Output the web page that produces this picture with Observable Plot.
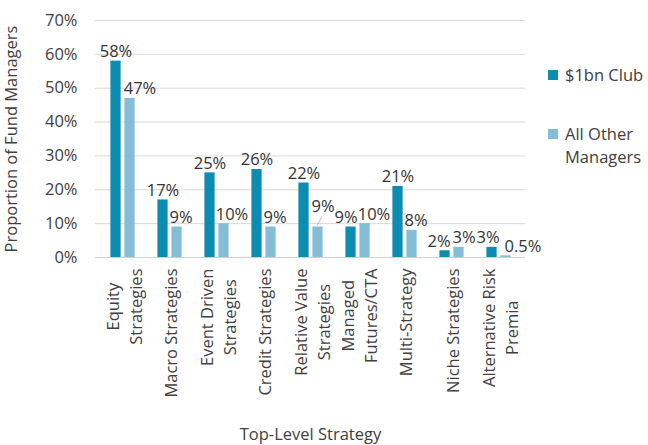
<!DOCTYPE html>
<html>
<head>
<meta charset="utf-8">
<script src="https://cdn.jsdelivr.net/npm/d3@7"></script>
<script src="https://cdn.jsdelivr.net/npm/@observablehq/plot@0.6"></script>
<style>
  html, body { margin: 0; padding: 0; background: #fff; }
  #wrap { position: relative; width: 648px; height: 445px; font-family: "Open Sans", sans-serif; color: #404040; }
  #legend { position: absolute; left: 548px; top: 63px; font-size: 16.5px; line-height: 23px; white-space: nowrap; }
  .item { position: relative; padding-left: 17px; margin-bottom: 36px; }
  .sw { position: absolute; left: 0; top: 7px; width: 10px; height: 10px; }
</style>
</head>
<body>
<div id="wrap">
  <div id="legend"></div>
</div>
<script>
// Share of fund managers by top-level strategy
const strategies = [
  "Equity\nStrategies",
  "Macro Strategies",
  "Event Driven\nStrategies",
  "Credit Strategies",
  "Relative Value\nStrategies",
  "Managed\nFutures/CTA",
  "Multi-Strategy",
  "Niche Strategies",
  "Alternative Risk\nPremia"
];
const billionClub = [58, 17, 25, 26, 22, 9, 21, 2, 3];
const otherManagers = [47, 9, 10, 9, 9, 10, 8, 3, 0.5];
const seriesNames = ["$1bn Club", "All Other\nManagers"];
const yTicks = [0, 10, 20, 30, 40, 50, 60, 70];

const colors = ["#0c8cb0", "#86bdd6"];
const FS = 16.5;

const club = strategies.map((s, i) => ({strategy: s, value: billionClub[i]}));
const others = strategies.map((s, i) => ({strategy: s, value: otherManagers[i]}));

const width = 648, height = 445;
const mL = 95, mR = 123, mT = 20, mB = 188;
const band = (width - mL - mR) / strategies.length;
const barW = 11, half = 7;
const fmt = v => `${v}%`;

// Label nudges [dx, dy] so neighbouring value labels don't collide
const clubNudge = {5: [-5, 0], 7: [-6, 0], 8: [-4, 0]};
const otherNudge = {0: [10, 0], 1: [4, 0], 2: [8, 0], 3: [4, 0], 4: [5, -11], 5: [9, 0], 6: [4, 0], 7: [5, 0], 8: [17, 0]};

const valueLabels = (data, base, nudges) => data.map((d, i) => {
  const [nx, ny] = nudges[i] || [0, 0];
  return Plot.text([d], {
    x: "strategy", y: "value", text: d => fmt(d.value),
    dx: base + nx, dy: -4 + ny, lineAnchor: "bottom", fill: "#333", fontSize: FS
  });
});

const chart = Plot.plot({
  width, height,
  marginLeft: mL, marginRight: mR, marginTop: mT, marginBottom: mB,
  style: {fontFamily: "'Open Sans', sans-serif", fontSize: `${FS}px`, color: "#404040", background: "transparent"},
  x: {domain: strategies, padding: 0},
  y: {domain: [0, 70]},
  marks: [
    Plot.gridY(yTicks, {stroke: "#d9d9d9", strokeOpacity: 1}),
    Plot.ruleY([0], {stroke: "#d0d0d0", strokeWidth: 1.2}),
    Plot.barY(club, {
      x: "strategy", y: "value", fill: colors[0],
      insetLeft: band / 2 - half - barW / 2, insetRight: band / 2 + half - barW / 2
    }),
    Plot.barY(others, {
      x: "strategy", y: "value", fill: colors[1],
      insetLeft: band / 2 + half - barW / 2, insetRight: band / 2 - half - barW / 2
    }),
    ...valueLabels(club, -half, clubNudge),
    ...valueLabels(others, half, otherNudge),
    Plot.axisY({
      ticks: yTicks, tickFormat: fmt, tickSize: 0, tickPadding: 18,
      label: "Proportion of Fund Managers", labelAnchor: "center", labelArrow: "none",
      labelOffset: 90
    }),
    Plot.axisX({
      tickSize: 0, tickPadding: 11, tickRotate: -90, lineHeight: 1.4,
      label: "Top-Level Strategy", labelAnchor: "center", labelArrow: "none",
      labelOffset: 182
    })
  ]
});

const wrap = document.getElementById("wrap");
wrap.insertBefore(chart, wrap.firstChild);

// Centre the lines of wrapped category labels within their block
chart.querySelectorAll('[aria-label="x-axis tick label"] text').forEach(t => {
  const spans = t.querySelectorAll("tspan");
  if (spans.length < 2) return;
  let maxLen = 0;
  spans.forEach(s => { maxLen = Math.max(maxLen, s.getComputedTextLength()); });
  t.setAttribute("text-anchor", "middle");
  spans.forEach(s => s.setAttribute("x", -maxLen / 2));
});

// Leader line from a lifted value label down to its bar
{
  const x = d3.scaleBand().domain(strategies).range([mL, width - mR]);
  const y = d3.scaleLinear().domain([0, 70]).range([height - mB, mT]);
  others.forEach((d, i) => {
    const [nx, ny] = otherNudge[i] || [0, 0];
    if (ny > -8) return;
    const cx = x(d.strategy) + band / 2 + half;
    const line = document.createElementNS("http://www.w3.org/2000/svg", "line");
    line.setAttribute("x1", cx);
    line.setAttribute("y1", y(d.value) - 1);
    line.setAttribute("x2", cx + nx);
    line.setAttribute("y2", y(d.value) + ny + 1);
    line.setAttribute("stroke", "#a6a6a6");
    line.setAttribute("stroke-width", "0.8");
    chart.appendChild(line);
  });
}

// Legend
const legend = document.getElementById("legend");
seriesNames.forEach((name, i) => {
  const item = document.createElement("div");
  item.className = "item";
  const sw = document.createElement("span");
  sw.className = "sw";
  sw.style.background = colors[i];
  item.appendChild(sw);
  name.split("\n").forEach((line, j) => {
    if (j) item.appendChild(document.createElement("br"));
    item.appendChild(document.createTextNode(line));
  });
  legend.appendChild(item);
});
</script>
</body>
</html>
